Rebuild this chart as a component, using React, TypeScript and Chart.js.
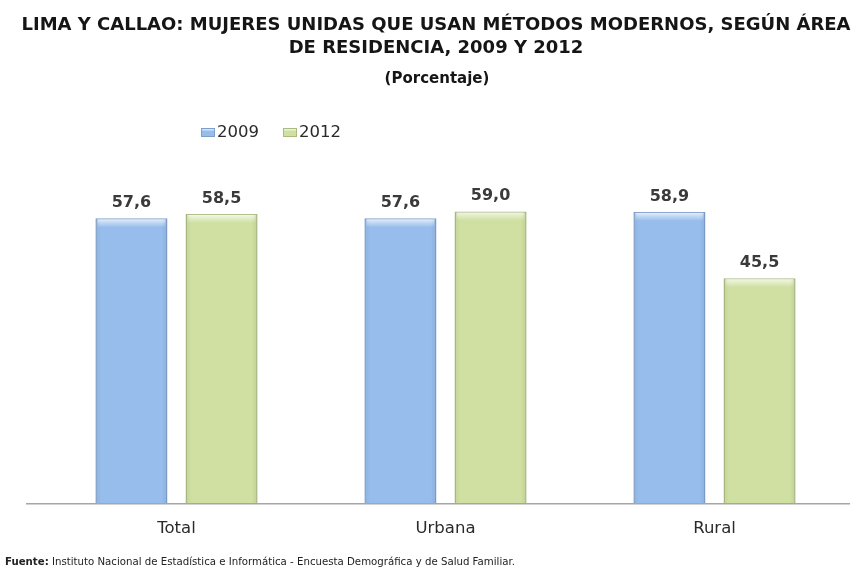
import React, { useEffect, useRef } from "react";
import { Chart, registerables } from "chart.js";

Chart.register(...registerables);

const categories = ["Total", "Urbana", "Rural"];
const series2009 = [57.6, 57.6, 58.9];
const series2012 = [58.5, 59.0, 45.5];
const seriesLabels = ["2009", "2012"];
const seriesFill = ["#97bdec", "#d0e0a2"];
const seriesBorder = ["#7f9fcb", "#a9bb82"];
const titleLines = [
  "LIMA Y CALLAO: MUJERES UNIDAS QUE USAN MÉTODOS MODERNOS, SEGÚN ÁREA",
  "DE RESIDENCIA, 2009 Y 2012",
];
const subtitleText = "(Porcentaje)";
const sourceLabel = "Fuente:";
const sourceText = " Instituto Nacional de Estadística e Informática - Encuesta Demográfica y de Salud Familiar.";

const fmt = (v: number) => v.toFixed(1).replace(".", ",");

const barLabels = {
  id: "barLabels",
  afterDatasetsDraw(chart: any) {
    const ctx = chart.ctx;
    ctx.save();
    ctx.font = "bold 16px 'DejaVu Sans'";
    ctx.fillStyle = "#3a3a3a";
    ctx.textAlign = "center";
    ctx.textBaseline = "alphabetic";
    chart.data.datasets.forEach((ds: any, i: number) => {
      const meta = chart.getDatasetMeta(i);
      meta.data.forEach((bar: any, j: number) => {
        ctx.fillText(fmt(ds.data[j]), bar.x, bar.y - 11);
      });
    });
    ctx.restore();
  },
};

const bevel = {
  id: "bevel",
  afterDatasetsDraw(chart: any) {
    const ctx = chart.ctx;
    ctx.save();
    chart.data.datasets.forEach((ds: any, i: number) => {
      const meta = chart.getDatasetMeta(i);
      meta.data.forEach((bar: any) => {
        const w = bar.width;
        const x0 = bar.x - w / 2;
        const g = ctx.createLinearGradient(0, bar.y, 0, bar.y + 9);
        g.addColorStop(0, "rgba(255,255,255,0.8)");
        g.addColorStop(1, "rgba(255,255,255,0)");
        ctx.fillStyle = g;
        ctx.fillRect(x0 + 2, bar.y + 1, w - 4, 9);
        const gs = ctx.createLinearGradient(x0, 0, x0 + w, 0);
        gs.addColorStop(0, "rgba(0,0,0,0.06)");
        gs.addColorStop(0.08, "rgba(0,0,0,0)");
        gs.addColorStop(0.92, "rgba(0,0,0,0)");
        gs.addColorStop(1, "rgba(0,0,0,0.08)");
        ctx.fillStyle = gs;
        ctx.fillRect(x0 + 1, bar.y + 1, w - 2, bar.base - bar.y - 1);
      });
    });
    ctx.restore();
  },
};

const decorations = {
  id: "decorations",
  afterDraw(chart: any) {
    const ctx = chart.ctx;
    ctx.save();
    // axis line
    const y = chart.chartArea.bottom + 0.5;
    ctx.strokeStyle = "#a6a6a6";
    ctx.lineWidth = 1.5;
    ctx.beginPath();
    ctx.moveTo(26, y);
    ctx.lineTo(850, y);
    ctx.stroke();

    // title
    ctx.textAlign = "center";
    ctx.textBaseline = "middle";
    ctx.fillStyle = "#151515";
    ctx.font = "bold 18px 'DejaVu Sans'";
    ctx.fillText(titleLines[0], 436, 25);
    ctx.fillText(titleLines[1], 436, 48);
    ctx.font = "bold 15px 'DejaVu Sans'";
    ctx.fillText(subtitleText, 437, 79);

    // legend
    ctx.textAlign = "left";
    ctx.font = "16.5px 'DejaVu Sans'";
    let lx = 201;
    const ly = 133;
    seriesLabels.forEach((lab, i) => {
      const g = ctx.createLinearGradient(0, ly - 5, 0, ly + 5);
      g.addColorStop(0, "#ffffff");
      g.addColorStop(0.35, seriesFill[i]);
      g.addColorStop(1, seriesFill[i]);
      ctx.fillStyle = g;
      ctx.fillRect(lx, ly - 5, 14, 9);
      ctx.strokeStyle = seriesBorder[i];
      ctx.lineWidth = 1;
      ctx.strokeRect(lx + 0.5, ly - 4.5, 13, 8);
      ctx.fillStyle = "#2a2a2a";
      ctx.fillText(lab, lx + 16, ly);
      lx += 16 + ctx.measureText(lab).width + 24;
    });

    // source
    ctx.fillStyle = "#222222";
    ctx.font = "bold 10.2px 'DejaVu Sans'";
    ctx.fillText(sourceLabel, 5, 562);
    const w = ctx.measureText(sourceLabel).width;
    ctx.font = "10.2px 'DejaVu Sans'";
    ctx.fillText(sourceText, 5 + w, 562);
    ctx.restore();
  },
};

export default function App() {
  const ref = useRef<HTMLCanvasElement | null>(null);
  useEffect(() => {
    document.body.style.margin = "0";
    const chart = new Chart(ref.current as HTMLCanvasElement, {
      type: "bar",
      data: {
        labels: categories,
        datasets: [
          {
            label: seriesLabels[0],
            data: series2009,
            backgroundColor: seriesFill[0],
            borderColor: seriesBorder[0],
            borderWidth: 1.5,
            categoryPercentage: 0.67,
            barPercentage: 0.8,
          },
          {
            label: seriesLabels[1],
            data: series2012,
            backgroundColor: seriesFill[1],
            borderColor: seriesBorder[1],
            borderWidth: 1.5,
            categoryPercentage: 0.67,
            barPercentage: 0.8,
          },
        ],
      },
      options: {
        animation: false,
        responsive: false,
        layout: { padding: { left: 42, right: 9, top: 157, bottom: 20 } },
        plugins: {
          title: { display: false },
          legend: { display: false },
          tooltip: { enabled: false },
        },
        scales: {
          x: {
            grid: { display: false, drawTicks: false },
            border: { display: false },
            ticks: { color: "#2a2a2a", font: { family: "DejaVu Sans", size: 16.5 }, padding: 16 },
          },
          y: {
            display: false,
            min: 0,
            max: 70,
          },
        },
      },
      plugins: [bevel, barLabels, decorations],
    } as any);
    return () => chart.destroy();
  }, []);
  return (
    <div style={{ position: "fixed", left: 0, top: 0, width: 858, height: 575, background: "#fff" }}>
      <canvas ref={ref} width={858} height={575} />
    </div>
  );
}
